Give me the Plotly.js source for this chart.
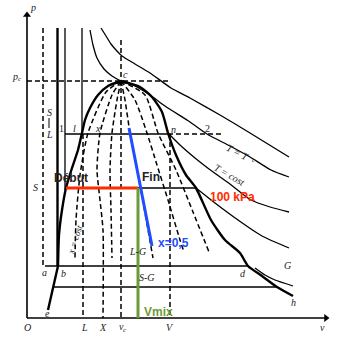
<!DOCTYPE html>
<html><head><meta charset="utf-8">
<script src="https://cdn.plot.ly/plotly-3.0.1.min.js"></script>
<style>html,body{margin:0;padding:0;background:#fff}#g{width:343px;height:340px}</style>
</head><body><div id="g"></div>
<script>
// Curves (diagram units: v to the right, p downwards in screen order)
const liqX = [121,108,98,90,85,82,78,72,66,62,59,58];
const liqY = [81,86,95,108,120,133,150,168,188,210,235,266];
const vapX = [121,140,152,162,168,176,186,196,211,225,240,248,262,277,293];
const vapY = [81,87,97,112,133,155,175,188,220,240,253,266,276,287,296];
const solidX = [58,48];
const solidY = [266,310];
const t1X = [101,106,111,116,122,135,150,171,190,220,250,289];
const t1Y = [28,36,44,50,56,64,73,88,98,115,133,157];
const t2X = [90,93,97,104,112,121,135,150,165,190,207,230,250,271,289];
const t2Y = [30,45,58,69,76,81,86,95,106,122,134,146,157,170,177];
const t3X = [168,180,195,209,230,251,270,289];
const t3Y = [133,145,158,169,184,200,207,212];
const t4X = [196,215,238,262,289];
const t4Y = [188,203,220,236,248];
const t5X = [255,265,275,293];
const t5Y = [268,275,280,286];
const f1X = [121,106,88,80,76,75];
const f1Y = [81,92,133,175,220,258];
const f2X = [121,112,100,97,100,103,103];
const f2Y = [81,95,133,170,200,230,318];
const f3X = [121,117,112,110,111,112];
const f3Y = [81,100,133,170,210,258];
const f4X = [121,125,130,140,153];
const f4Y = [81,100,133,185,258];
const f5X = [121,135,147,157,168,180,184];
const f5Y = [81,100,133,165,200,240,252];
const f6X = [121,145,158,176,193,209];
const f6Y = [81,95,133,170,212,252];
const pcLevel = 81, vcPos = 121, lPos = 83, vPos = 170;
const level12 = 134, levelAB = 266, levelE = 287, level100 = 188;
const debutV = 66, finV = 138, fin2V = 196;
const blueX = [129,152], blueY = [128,246];
const originX = 27, originY = 318, axisTopY = 12, axisEndX = 329;

const traces = [];
function L(x, y, w, dash, color) {
  traces.push({x: x, y: y, mode: 'lines', type: 'scatter', hoverinfo: 'skip',
    line: {color: color || '#000', width: w, dash: dash || 'solid', shape: x.length > 2 ? 'spline' : 'linear', smoothing: 0.6}});
}
const D = '5px,3px';
// axes
L([originX, originX], [originY, axisTopY + 3], 1.6);
L([originX, axisEndX - 3], [originY, originY], 1.6);
traces.push({x: [originX], y: [axisTopY + 3], mode: 'markers', type: 'scatter', hoverinfo: 'skip',
  marker: {symbol: 'triangle-up', size: 7, color: '#000'}});
traces.push({x: [axisEndX - 3], y: [originY], mode: 'markers', type: 'scatter', hoverinfo: 'skip',
  marker: {symbol: 'triangle-right', size: 7, color: '#000'}});
// thick saturation curves
L(liqX, liqY, 2.4);
L(vapX, vapY, 2.4);
L(solidX, solidY, 2.4);
// isotherms
L(t1X, t1Y, 1.3); L(t2X, t2Y, 1.3); L(t3X, t3Y, 1.3); L(t4X, t4Y, 1.3); L(t5X, t5Y, 1.3);
// quality fan
[[f1X,f1Y],[f2X,f2Y],[f3X,f3Y],[f4X,f4Y],[f5X,f5Y],[f6X,f6Y]].forEach(p => L(p[0], p[1], 1.5, D));
// verticals
L([43,43],[28,levelAB],1.5,D);
L([57.5,57.5],[28,levelAB],2.4);
L([65,65],[28,190],1.3);
L([82,82],[28,level12],1.3);
L([lPos,lPos],[level12,318],1.5,D);
L([vcPos,vcPos],[40,318],1.5,D);
L([vPos,vPos],[level12,318],1.5,D);
// S | L separator
L([49,49],[118,128],1);
// horizontals
L([27,168],[pcLevel,pcLevel],1.5,D);
L([65,168],[level12,level12],1.3);
L([168,221],[level12,level12],1.5,D);
L([45,248],[levelAB,levelAB],1.3);
L([53,277],[levelE,levelE],1.3);
L([finV,fin2V],[level100,level100],1.3);
L([debutV,finV],[level100,level100],3,null,'#ff2a00');
L(blueX, blueY, 3, null, '#1f4dff');
L([finV,finV],[level100,318],3,null,'#6b9b37');

const serif = {family: 'Liberation Serif, serif', size: 10, color: '#222'};
const small = {family: 'Liberation Serif, serif', size: 7, color: '#222'};
const ann = [];
function T(x, y, t, f, extra) { ann.push(Object.assign({x: x, y: y, text: t, showarrow: false, font: f || serif}, extra || {})); }
T(33,7,'<i>p</i>'); T(15,76,'<i>p</i>'); T(20,79,'<i>c</i>', small); T(125,74,'<i>c</i>');
T(49,112,'<i>S</i>'); T(49,134,'<i>L</i>');
T(61,128,'1'); T(74,128,'<i>l</i>'); T(98,128,'<i>x</i>'); T(173,129,'<i>n</i>'); T(207,128,'2');
T(35,187,'<i>S</i>');
T(238,152,'<i>T = T</i>', null, {textangle: 27}); T(254,160,'<i>c</i>', small);
T(229,174,'<i>T = cost</i>', null, {textangle: 30});
T(75,240,'<i>x = cost</i>', {family:'Liberation Serif, serif', size: 9, color:'#222'}, {textangle: -72});
T(137,251,'<i>L-G</i>'); T(147,277,'<i>S-G</i>');
T(44,272,'<i>a</i>'); T(63,273,'<i>b</i>'); T(47,313,'<i>e</i>'); T(243,273,'<i>d</i>'); T(293,302,'<i>h</i>'); T(287,265,'<i>G</i>');
T(27,327,'<i>O</i>'); T(84,327,'<i>L</i>'); T(103,327,'<i>X</i>'); T(121,326,'<i>v</i>'); T(125,330,'<i>c</i>', small); T(170,327,'<i>V</i>'); T(322,327,'<i>v</i>');
const bold = c => ({family: 'Liberation Sans, Arial, sans-serif', size: 12, color: c});
T(71,178,'<b>Début</b>', bold('#222'));
T(151,177,'<b>Fin</b>', bold('#222'));
T(232,197,'<b>100 kPa</b>', bold('#ff2a00'));
T(173,243,'<b>x=0,5</b>', bold('#1f4dff'));
T(158,312,'<b>Vmix</b>', bold('#6b9b37'));

Plotly.newPlot('g', traces, {
  width: 343, height: 340, margin: {l:0,r:0,t:0,b:0}, showlegend: false,
  paper_bgcolor: '#fff', plot_bgcolor: '#fff',
  xaxis: {range: [0,343], visible: false, fixedrange: true},
  yaxis: {range: [340,0], visible: false, fixedrange: true},
  annotations: ann
}, {staticPlot: true, displayModeBar: false});
</script></body></html>
